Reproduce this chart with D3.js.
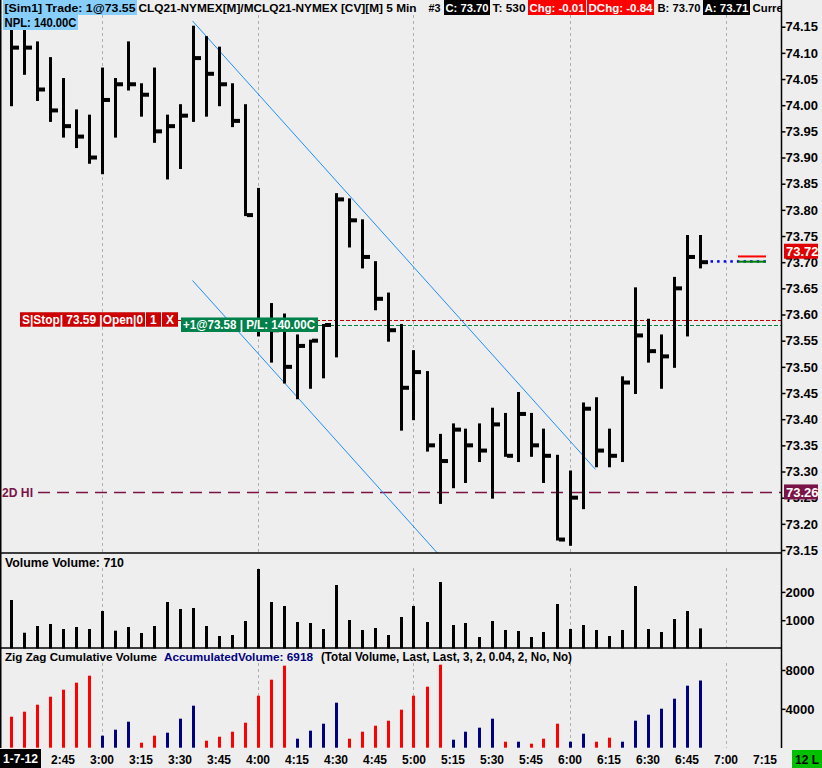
<!DOCTYPE html>
<html>
<head>
<meta charset="utf-8">
<script src="https://cdn.jsdelivr.net/npm/d3@7"></script>
<style>
body { margin: 0; background: #eeeeee; }
svg { display: block; font-family: "Liberation Sans", Arial, sans-serif; }
</style>
</head>
<body>
<div id="chart"></div>
<script>
// 5 min bars, CLQ21 / MCLQ21
const times = ["2:25","2:30","2:35","2:40","2:45","2:50","2:55",
  "3:00","3:05","3:10","3:15","3:20","3:25","3:30","3:35","3:40","3:45","3:50","3:55",
  "4:00","4:05","4:10","4:15","4:20","4:25","4:30","4:35","4:40","4:45","4:50","4:55",
  "5:00","5:05","5:10","5:15","5:20","5:25","5:30","5:35","5:40","5:45","5:50","5:55",
  "6:00","6:05","6:10","6:15","6:20","6:25","6:30","6:35","6:40","6:45","6:50"];

const highs = [74.15,74.15,74.12,74.09,74.05,73.99,73.98,74.07,74.05,74.12,74.04,74.07,73.98,74.00,
  74.15,74.13,74.11,74.04,74.00,73.84,73.62,73.60,73.56,73.55,73.58,73.83,73.82,73.78,73.70,73.64,
  73.58,73.53,73.49,73.37,73.39,73.38,73.39,73.42,73.41,73.45,73.41,73.38,73.33,73.30,73.43,73.44,
  73.38,73.48,73.65,73.59,73.56,73.67,73.75,73.75];
const lows = [74.00,74.06,74.01,73.97,73.94,73.92,73.89,73.87,73.94,74.03,73.98,73.93,73.86,73.88,
  73.97,73.98,74.00,73.96,73.79,73.56,73.51,73.47,73.44,73.46,73.48,73.52,73.73,73.69,73.61,73.55,
  73.38,73.40,73.34,73.24,73.27,73.28,73.32,73.25,73.33,73.32,73.33,73.28,73.17,73.16,73.23,73.31,
  73.31,73.32,73.45,73.51,73.46,73.50,73.56,73.69];
const closes = [74.11,74.11,74.03,73.99,73.96,73.94,73.90,74.01,74.04,74.04,74.02,73.95,73.96,73.98,
  74.09,74.06,74.04,73.97,73.79,73.58,73.57,73.50,73.54,73.55,73.58,73.82,73.78,73.71,73.63,73.57,
  73.46,73.49,73.35,73.32,73.38,73.35,73.34,73.39,73.33,73.41,73.35,73.33,73.17,73.25,73.42,73.34,
  73.33,73.47,73.56,73.53,73.52,73.65,73.71,73.70];

const volumes = [1714,558,795,866,689,760,689,1325,629,760,548,795,1643,1396,1431,795,442,477,972,
  2809,1643,1502,936,901,689,2244,1007,654,724,477,1113,1502,936,2350,830,901,406,972,654,618,
  406,583,1572,689,830,654,442,654,2208,689,583,1042,1325,710];

const zigzagVol = [3193,3708,4428,5252,5973,6694,7415,1236,1854,2678,515,1236,1545,2987,4325,721,
  1133,1648,2575,5355,7003,8445,927,1751,2472,4634,927,1648,2266,2781,3913,5355,6282,8548,824,
  1648,2060,2987,618,618,412,927,2472,618,1442,618,1030,618,2781,3399,4016,5046,6385,6918];
const zigzagLeg = ["dn","dn","dn","dn","dn","dn","dn","up","up","up","dn","dn","up","up","up",
  "dn","dn","dn","dn","dn","dn","dn","up","up","up","up","dn","dn","dn","dn","dn","dn","dn","dn",
  "up","up","up","up","dn","up","dn","dn","dn","up","up","dn","dn","up","up","up","up","up","up","up"];

const priceTicks = [74.15,74.10,74.05,74.00,73.95,73.90,73.85,73.80,73.75,73.70,73.65,73.60,
  73.55,73.50,73.45,73.40,73.35,73.30,73.25,73.20,73.15];
const volTicks = [1000, 2000];
const zigzagTicks = [4000, 8000];
const timeTicks = ["2:45","3:00","3:15","3:30","3:45","4:00","4:15","4:30","4:45","5:00",
  "5:15","5:30","5:45","6:00","6:15","6:30","6:45","7:00","7:15"];
const hourLines = ["3:00","4:00","5:00","6:00","7:00"];

// drawn channel (time, price)
const channelUpper = [{ t: "3:35", p: 74.161 }, { t: "6:10", p: 73.304 }];
const channelLower = [{ t: "3:35", p: 73.665 }, { t: "6:10", p: 72.808 }];

const stopPrice = 73.59, entryPrice = 73.58, twoDayHigh = 73.26;
const askPrice = 73.71, bidPrice = 73.70, lastPrice = 73.70, markerPrice = 73.72;

// layout
const W = 822, H = 768;
const axisX = 781;
const priceBottom = 553, volBottom = 648, zzBottom = 748;
const font = '"Liberation Sans", Arial, sans-serif';

const svg = d3.select("#chart").append("svg")
  .attr("width", W)
  .attr("height", H);

svg.append("rect").attr("width", W).attr("height", H).attr("fill", "#eeeeee");

const parseT = d3.timeParse("%H:%M");
const x = d3.scaleTime().domain([parseT("2:25"), parseT("7:15")]).range([10.5, 764.5]);
const y = d3.scaleLinear().domain([73.15, 74.15]).range([550, 26.7]);
const yVol = d3.scaleLinear().domain([0, 2000]).range([648.5, 591.9]);
const yZz = d3.scaleLinear().domain([0, 8000]).range([747.7, 670]);

const defs = svg.append("defs");
defs.append("clipPath").attr("id", "clipPrice")
  .append("rect").attr("x", 0).attr("y", 0).attr("width", axisX).attr("height", priceBottom);
defs.append("clipPath").attr("id", "clipHead")
  .append("rect").attr("x", 0).attr("y", 0).attr("width", axisX).attr("height", 40);

// hour grid lines in each panel
[[15, priceBottom], [568, volBottom], [663, zzBottom]].forEach(([a, b]) => {
  svg.selectAll(null)
    .data(hourLines)
    .enter().append("line")
    .attr("x1", d => Math.round(x(parseT(d))) + 0.5)
    .attr("x2", d => Math.round(x(parseT(d))) + 0.5)
    .attr("y1", a).attr("y2", b)
    .attr("stroke", "#b0b0b0")
    .attr("stroke-dasharray", "3,3");
});

const bars = times.map((t, i) => ({ t: parseT(t), h: highs[i], l: lows[i], c: closes[i],
  v: volumes[i], z: zigzagVol[i], leg: zigzagLeg[i] }));

const pricePanel = svg.append("g").attr("clip-path", "url(#clipPrice)");

// 2D HI level
pricePanel.append("line")
  .attr("x1", 38).attr("x2", axisX)
  .attr("y1", y(twoDayHigh)).attr("y2", y(twoDayHigh))
  .attr("stroke", "#7a1446").attr("stroke-width", 1.5)
  .attr("stroke-dasharray", "12,7");

// order lines
pricePanel.append("line")
  .attr("x1", 178).attr("x2", axisX)
  .attr("y1", Math.round(y(stopPrice)) + 0.5).attr("y2", Math.round(y(stopPrice)) + 0.5)
  .attr("stroke", "#c00000").attr("stroke-dasharray", "4,2");
pricePanel.append("line")
  .attr("x1", 318).attr("x2", axisX)
  .attr("y1", Math.round(y(entryPrice)) + 0.5).attr("y2", Math.round(y(entryPrice)) + 0.5)
  .attr("stroke", "#008040").attr("stroke-dasharray", "4,2");

// channel lines
const chan = d3.line().x(d => x(parseT(d.t))).y(d => y(d.p));
[channelUpper, channelLower].forEach(c => {
  pricePanel.append("path")
    .datum(c)
    .attr("d", chan)
    .attr("fill", "none")
    .attr("stroke", "#1e8cff")
    .attr("stroke-width", 1);
});

// HLC bars
pricePanel.selectAll(".bar")
  .data(bars)
  .enter().append("rect")
  .attr("class", "bar")
  .attr("x", d => Math.round(x(d.t)) - 1)
  .attr("y", d => y(d.h) - 1)
  .attr("width", 3)
  .attr("height", d => y(d.l) - y(d.h) + 2)
  .attr("fill", "#000");
pricePanel.selectAll(".close")
  .data(bars)
  .enter().append("rect")
  .attr("class", "close")
  .attr("x", d => Math.round(x(d.t)) + 2)
  .attr("y", d => y(d.c) - 2)
  .attr("width", 6)
  .attr("height", 4)
  .attr("fill", "#000");

// last / bid / ask markers
const lastX0 = x(parseT("6:50")) + 12;
pricePanel.selectAll(".lastdot")
  .data(d3.range(lastX0, 766, 6.6))
  .enter().append("rect")
  .attr("class", "lastdot")
  .attr("x", d => d - 1).attr("y", y(lastPrice) - 2)
  .attr("width", 2.5).attr("height", 2.5)
  .attr("fill", "#0000ff");
pricePanel.append("rect").attr("x", 738).attr("y", y(askPrice) - 1.5)
  .attr("width", 28).attr("height", 2).attr("fill", "#ff0000");
pricePanel.append("rect").attr("x", 738).attr("y", y(bidPrice) - 1.5)
  .attr("width", 28).attr("height", 2).attr("fill", "#008000");

// order labels
function tag(g, x0, y0, w, h, fill, txt, color, tw) {
  g.append("rect").attr("x", x0).attr("y", y0).attr("width", w).attr("height", h).attr("fill", fill);
  const t = g.append("text")
    .attr("x", x0 + 2).attr("y", y0 + h - 3)
    .attr("fill", color)
    .attr("font-size", 12)
    .attr("font-weight", "bold")
    .text(txt);
  if (tw) t.attr("textLength", tw).attr("lengthAdjust", "spacingAndGlyphs");
  return t;
}
const ys = y(stopPrice);
tag(svg, 20, ys - 7.5, 125, 14.5, "#cc0000", "S|Stop| 73.59 |Open|0", "#fff", 121);
tag(svg, 146, ys - 7.5, 15, 14.5, "#cc0000", "1", "#fff").attr("x", 150);
tag(svg, 162, ys - 7.5, 16, 14.5, "#cc0000", "X", "#fff").attr("x", 166);
const ye = y(entryPrice);
tag(svg, 181, ye - 7.5, 137, 14.5, "#00804a", "+1@73.58 | P/L: 140.00C", "#fff", 132);

svg.append("text")
  .attr("x", 2).attr("y", y(twoDayHigh) + 5)
  .attr("fill", "#7a1446").attr("font-size", 12.5).attr("font-weight", "bold")
  .attr("textLength", 31).attr("lengthAdjust", "spacingAndGlyphs")
  .text("2D HI");

// volume panel
svg.selectAll(".vol")
  .data(bars)
  .enter().append("rect")
  .attr("class", "vol")
  .attr("x", d => Math.round(x(d.t)) - 1)
  .attr("y", d => yVol(d.v))
  .attr("width", 3)
  .attr("height", d => yVol(0) - yVol(d.v))
  .attr("fill", "#000");

// zig zag cumulative volume
svg.selectAll(".zz")
  .data(bars)
  .enter().append("rect")
  .attr("class", "zz")
  .attr("x", d => Math.round(x(d.t)) - 1)
  .attr("y", d => yZz(d.z))
  .attr("width", 3)
  .attr("height", d => yZz(0) - yZz(d.z))
  .attr("fill", d => d.leg === "dn" ? "#ff0000" : "#000080");

// panel borders
svg.append("line").attr("x1", 0).attr("x2", axisX).attr("y1", priceBottom).attr("y2", priceBottom)
  .attr("stroke", "#000").attr("stroke-width", 1.5);
svg.append("line").attr("x1", 0).attr("x2", axisX).attr("y1", volBottom).attr("y2", volBottom)
  .attr("stroke", "#000").attr("stroke-width", 1.5);
svg.append("line").attr("x1", axisX + 0.5).attr("x2", axisX + 0.5).attr("y1", 0).attr("y2", zzBottom)
  .attr("stroke", "#000").attr("stroke-width", 1.5);
svg.append("line").attr("x1", 0.75).attr("x2", 0.75).attr("y1", 0).attr("y2", zzBottom)
  .attr("stroke", "#000").attr("stroke-width", 1.5);

// right axes
function rightAxis(scale, ticks, fmt) {
  const g = svg.append("g")
    .attr("transform", `translate(${axisX + 0.5},0)`)
    .call(d3.axisRight(scale).tickValues(ticks).tickSize(4).tickPadding(0).tickFormat(fmt));
  g.select(".domain").remove();
  g.selectAll("line").attr("stroke", "#000").attr("stroke-width", 1.5);
  g.selectAll("text")
    .attr("fill", "#000")
    .attr("font-family", font)
    .attr("font-size", 13)
    .attr("font-weight", "bold");
  return g;
}
rightAxis(y, priceTicks, d3.format(".2f"));
rightAxis(yVol, volTicks, d3.format("d"));
rightAxis(yZz, zigzagTicks, d3.format("d"));

// price markers on the axis
function axisTag(price, fill) {
  const yy = y(price);
  svg.append("rect").attr("x", 784).attr("y", yy - 8).attr("width", 34).attr("height", 15).attr("fill", fill);
  svg.append("text").attr("x", 786).attr("y", yy + 4.5)
    .attr("fill", "#fff").attr("font-size", 13).attr("font-weight", "bold")
    .text(d3.format(".2f")(price));
}
axisTag(markerPrice, "#e00000");
axisTag(twoDayHigh, "#7a1446");

// time axis
const xAxis = svg.append("g")
  .attr("transform", `translate(0,${zzBottom})`)
  .call(d3.axisBottom(x).tickValues(timeTicks.map(parseT)).tickSize(0).tickFormat(d3.timeFormat("%-H:%M")));
xAxis.select(".domain").remove();
xAxis.selectAll("text")
  .attr("y", 7)
  .attr("fill", "#000")
  .attr("font-family", font)
  .attr("font-size", 12)
  .attr("font-weight", "bold");

svg.append("rect").attr("x", 0).attr("y", 749).attr("width", 41).attr("height", 19).attr("fill", "#000");
svg.append("text").attr("x", 3).attr("y", 763).attr("fill", "#fff")
  .attr("font-size", 12).attr("font-weight", "bold")
  .attr("textLength", 35).attr("lengthAdjust", "spacingAndGlyphs").text("1-7-12");
svg.append("rect").attr("x", 792).attr("y", 750).attr("width", 30).attr("height", 18).attr("fill", "#00c000");
svg.append("text").attr("x", 795).attr("y", 764).attr("fill", "#000")
  .attr("font-size", 12).attr("font-weight", "bold")
  .attr("textLength", 24).attr("lengthAdjust", "spacingAndGlyphs").text("12 L");

// panel titles
svg.append("text").attr("x", 5).attr("y", 567)
  .attr("font-size", 12).attr("font-weight", "bold")
  .attr("textLength", 119).attr("lengthAdjust", "spacingAndGlyphs")
  .text("Volume  Volume: " + volumes[volumes.length - 1]);
svg.append("text").attr("x", 5).attr("y", 661)
  .attr("font-size", 11.6).attr("font-weight", "bold")
  .attr("textLength", 152).attr("lengthAdjust", "spacingAndGlyphs")
  .text("Zig Zag Cumulative Volume");
svg.append("text").attr("x", 164).attr("y", 661).attr("fill", "#000080")
  .attr("font-size", 11.7).attr("font-weight", "bold")
  .attr("textLength", 149).attr("lengthAdjust", "spacingAndGlyphs")
  .text("AccumulatedVolume: " + zigzagVol[zigzagVol.length - 1]);
svg.append("text").attr("x", 321).attr("y", 661)
  .attr("font-size", 12).attr("font-weight", "bold")
  .attr("textLength", 251).attr("lengthAdjust", "spacingAndGlyphs")
  .text("(Total Volume, Last, Last, 3, 2, 0.04, 2, No, No)");

// header strip
const head = svg.append("g").attr("clip-path", "url(#clipHead)");
const headSegs = [
  { txt: "[Sim1]  Trade: 1@73.55", x0: 3, x1: 137, bg: "#87cefa", fg: "#000" },
  { txt: "CLQ21-NYMEX[M]/MCLQ21-NYMEX [CV][M]  5 Min", x0: 137, x1: 418, bg: null, fg: "#000" },
  { txt: "#3", x0: 427, x1: 442, bg: null, fg: "#000" },
  { txt: "C: 73.70", x0: 444, x1: 490, bg: "#000", fg: "#fff" },
  { txt: "T: 530", x0: 491, x1: 527, bg: null, fg: "#000" },
  { txt: "Chg: -0.01", x0: 528, x1: 586, bg: "#ff0000", fg: "#fff" },
  { txt: "DChg: -0.84", x0: 587, x1: 654, bg: "#ff0000", fg: "#fff" },
  { txt: "B: 73.70", x0: 656, x1: 702, bg: null, fg: "#000" },
  { txt: "A: 73.71", x0: 703, x1: 750, bg: "#000", fg: "#fff" },
  { txt: "Current", x0: 751, x1: 795, bg: null, fg: "#000" }
];
headSegs.forEach(s => {
  if (s.bg) head.append("rect").attr("x", s.x0).attr("y", 0).attr("width", s.x1 - s.x0).attr("height", 15).attr("fill", s.bg);
  head.append("text")
    .attr("x", s.x0 + 1.5).attr("y", 12)
    .attr("fill", s.fg)
    .attr("font-size", 11.8).attr("font-weight", "bold")
    .attr("textLength", s.x1 - s.x0 - 3).attr("lengthAdjust", "spacingAndGlyphs")
    .text(s.txt);
});
head.append("rect").attr("x", 3).attr("y", 15).attr("width", 75).attr("height", 15).attr("fill", "#87cefa");
head.append("text").attr("x", 4.5).attr("y", 27)
  .attr("font-size", 12).attr("font-weight", "bold")
  .attr("textLength", 72).attr("lengthAdjust", "spacingAndGlyphs")
  .text("NPL: 140.00C");
</script>
</body>
</html>
